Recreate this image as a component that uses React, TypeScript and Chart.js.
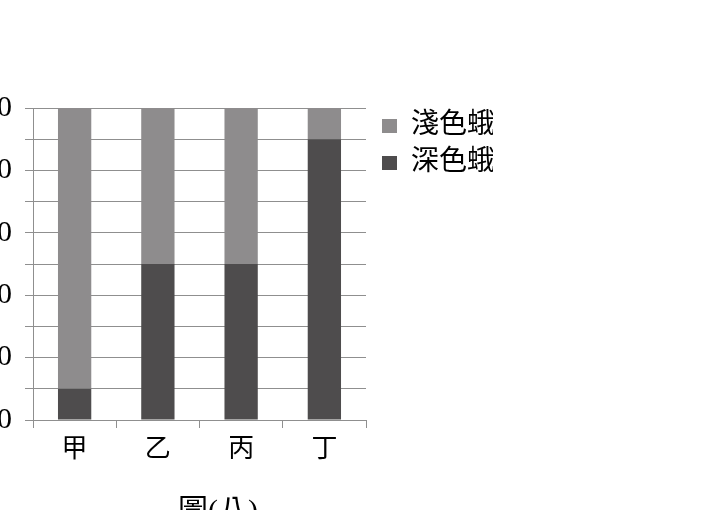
import React, { useEffect, useRef } from "react";
import { Chart, registerables } from "chart.js";

Chart.register(...registerables);

const categories = ["甲", "乙", "丙", "丁"];
const seriesNames = ["淺色蛾", "深色蛾"];
const lightMoth = [90, 50, 50, 10];
const darkMoth = [10, 50, 50, 90];
const yMin = 0;
const yMax = 100;
const yGridStep = 10;
const yLabelStep = 20;
const chartTitle = "圖(八)";

const FONT = "'Liberation Serif', 'Noto Sans CJK TC', serif";
const GRID = "#8f8f8f";
const LIGHT = "#8e8c8d";
const DARK = "#4e4c4d";

const CANVAS_W = 761;
const CANVAS_H = 530;
const CANVAS_LEFT = -57;

export default function App() {
  const ref = useRef<HTMLCanvasElement | null>(null);

  useEffect(() => {
    if (!ref.current) return;
    const chart = new Chart(ref.current, {
      type: "bar",
      data: {
        labels: categories,
        datasets: [
          {
            label: seriesNames[1],
            data: darkMoth,
            backgroundColor: DARK,
            borderWidth: 0,
            barPercentage: 0.4,
            categoryPercentage: 1,
            xAxisID: "x",
            yAxisID: "y",
          },
          {
            label: seriesNames[0],
            data: lightMoth,
            backgroundColor: LIGHT,
            borderWidth: 0,
            barPercentage: 0.4,
            categoryPercentage: 1,
            xAxisID: "x",
            yAxisID: "y",
          },
        ],
      },
      options: {
        responsive: false,
        animation: false,
        devicePixelRatio: 1,
        layout: { padding: { left: 0, right: 211, top: 103, bottom: 0 } },
        scales: {
          x: {
            stacked: true,
            grid: {
              drawOnChartArea: false,
              drawTicks: true,
              tickLength: 8,
              color: GRID,
              offset: true,
            },
            border: { display: true, color: GRID },
            ticks: {
              color: "#000",
              padding: 7,
              font: { family: FONT, size: 26 },
            },
            afterFit: (s: any) => {
              s.height = 45;
            },
          },
          y: {
            stacked: true,
            min: yMin,
            max: yMax,
            grid: {
              color: GRID,
              lineWidth: 1,
              drawTicks: true,
              tickLength: 8,
            },
            border: { display: true, color: GRID },
            ticks: {
              stepSize: yGridStep,
              autoSkip: false,
              padding: 13,
              color: "#000",
              font: { family: FONT, size: 30 },
              callback: (v: any) => (Number(v) % yLabelStep === 0 ? String(v) : ""),
            },
            afterFit: (s: any) => {
              s.width = 90;
            },
          },
          xTop: {
            type: "category",
            position: "top",
            display: true,
            grid: { display: false },
            border: { display: false },
            ticks: { display: false },
            afterFit: (s: any) => {
              s.height = 5;
            },
          },
          yGap: {
            type: "linear",
            axis: "y",
            position: "right",
            display: true,
            grid: { display: false },
            border: { display: false },
            ticks: { display: false },
            afterFit: (s: any) => {
              s.width = 7;
            },
          },
        },
        plugins: {
          legend: {
            display: true,
            position: "right",
            align: "start",
            reverse: true,
            maxWidth: 120,
            labels: {
              boxWidth: 15,
              boxHeight: 14,
              padding: 9,
              color: "#000",
              font: { family: FONT, size: 28 },
            },
          },
          title: {
            display: true,
            position: "bottom",
            text: chartTitle,
            color: "#000",
            font: { family: FONT, size: 30, weight: "normal" },
            padding: { top: 29, bottom: 0 },
          },
          tooltip: { enabled: false },
        },
      },
    });
    return () => chart.destroy();
  }, []);

  return (
    <div
      style={{
        position: "fixed",
        left: 0,
        top: 0,
        width: 704,
        height: 510,
        overflow: "hidden",
        background: "#fff",
      }}
    >
      <canvas
        ref={ref}
        width={CANVAS_W}
        height={CANVAS_H}
        style={{
          position: "absolute",
          left: CANVAS_LEFT,
          top: 0,
          width: CANVAS_W,
          height: CANVAS_H,
        }}
      />
    </div>
  );
}
